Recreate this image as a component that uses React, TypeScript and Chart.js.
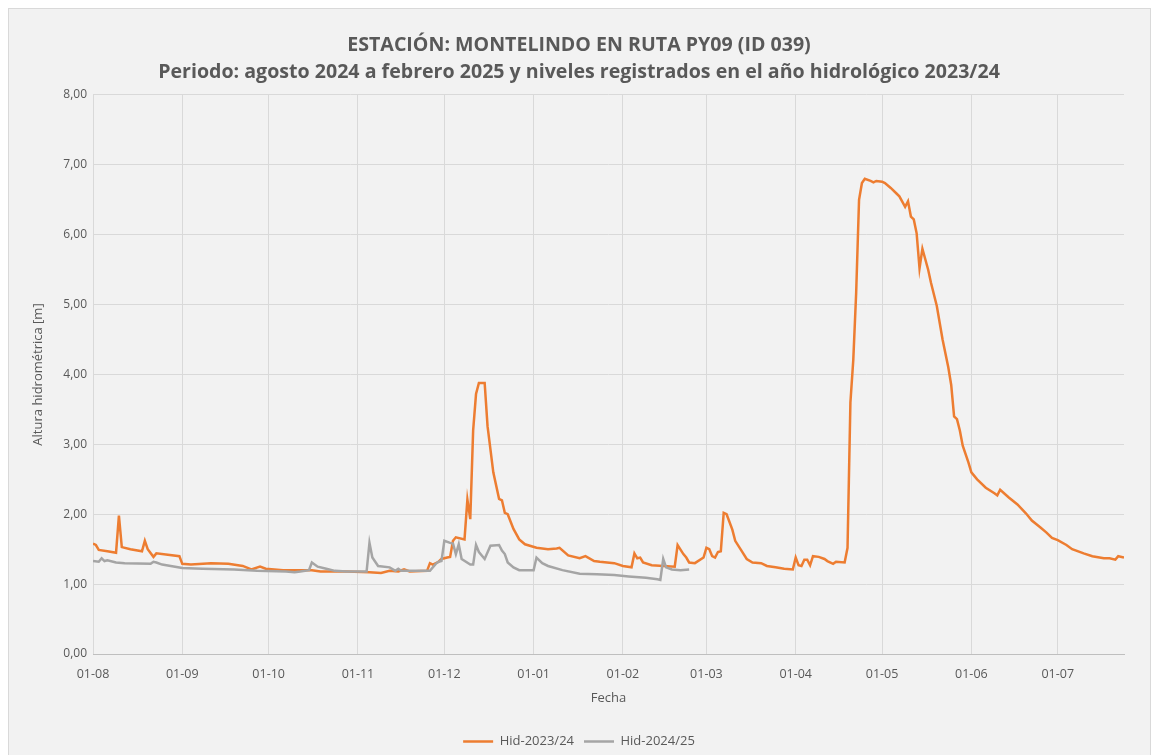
import React, { useEffect, useRef } from "react";
import { Chart, registerables } from "chart.js";

Chart.register(...registerables);

const FONT = "'Open Sans', 'Noto Sans', sans-serif";
const TEXT_COLOR = "#595959";

const titleLines = [
  "ESTACIÓN: MONTELINDO EN RUTA PY09 (ID 039)",
  "Periodo: agosto 2024 a febrero 2025 y niveles registrados en el año hidrológico 2023/24",
];
const yAxisTitle = "Altura hidrométrica [m]";
const xAxisTitle = "Fecha";

// month start positions (days from 1 August, hydrological year 2023/24)
const monthKeys = ["08", "09", "10", "11", "12", "01", "02", "03", "04", "05", "06", "07"];
const monthStartDays = [0, 31, 61, 92, 122, 153, 184, 213, 244, 274, 305, 335];
const monthTickLabels = ["01-08", "01-09", "01-10", "01-11", "01-12", "01-01", "01-02", "01-03", "01-04", "01-05", "01-06", "01-07"];
const axisEndDay = 358;
const yMin = 0;
const yMax = 8;
const yStep = 1;

const seriesNames = ["Hid-2023/24", "Hid-2024/25"];

const hid2324Dates = [
  "01-08", "02-08", "03-08", "06-08", "09-08", "10-08", "11-08", "14-08", "18-08", "19-08",
  "20-08", "22-08", "23-08", "27-08", "31-08", "01-09", "04-09", "11-09", "17-09", "22-09",
  "25-09", "28-09", "30-09", "06-10", "16-10", "19-10", "28-10", "05-11", "09-11", "12-11",
  "15-11", "17-11", "19-11", "25-11", "26-11", "27-11", "29-11", "30-11", "02-12", "03-12",
  "04-12", "05-12", "08-12", "09-12", "10-12", "11-12", "12-12", "13-12", "15-12", "16-12",
  "18-12", "20-12", "21-12", "22-12", "23-12", "25-12", "27-12", "29-12", "02-01", "06-01",
  "09-01", "10-01", "13-01", "17-01", "19-01", "22-01", "24-01", "29-01", "01-02", "04-02",
  "05-02", "06-02", "07-02", "08-02", "11-02", "19-02", "20-02", "22-02", "23-02", "24-02",
  "26-02", "29-02", "01-03", "02-03", "03-03", "04-03", "05-03", "06-03", "07-03", "08-03",
  "10-03", "11-03", "13-03", "15-03", "17-03", "20-03", "22-03", "25-03", "28-03", "31-03",
  "01-04", "02-04", "03-04", "04-04", "05-04", "06-04", "07-04", "09-04", "11-04", "12-04",
  "14-04", "15-04", "18-04", "19-04", "20-04", "21-04", "22-04", "23-04", "24-04", "25-04",
  "27-04", "28-04", "29-04", "01-05", "02-05", "04-05", "06-05", "07-05", "09-05", "10-05",
  "11-05", "12-05", "13-05", "14-05", "15-05", "17-05", "18-05", "20-05", "22-05", "24-05",
  "25-05", "26-05", "27-05", "28-05", "29-05", "31-05", "01-06", "03-06", "06-06", "09-06",
  "10-06", "11-06", "14-06", "17-06", "20-06", "22-06", "25-06", "27-06", "29-06", "01-07",
  "04-07", "06-07", "10-07", "13-07", "17-07", "19-07", "21-07", "22-07", "24-07",
];
const hid2324Values = [
  1.58, 1.56, 1.49, 1.47, 1.45, 1.98, 1.53, 1.50, 1.47, 1.62,
  1.50, 1.39, 1.44, 1.42, 1.40, 1.29, 1.28, 1.30, 1.29, 1.26,
  1.21, 1.25, 1.22, 1.20, 1.20, 1.18, 1.18, 1.17, 1.16, 1.19,
  1.18, 1.21, 1.18, 1.19, 1.30, 1.28, 1.32, 1.36, 1.38, 1.39,
  1.62, 1.67, 1.64, 2.21, 1.93, 3.20, 3.72, 3.88, 3.88, 3.26,
  2.60, 2.22, 2.20, 2.02, 2.00, 1.79, 1.64, 1.57, 1.52, 1.50,
  1.51, 1.52, 1.41, 1.37, 1.40, 1.33, 1.32, 1.30, 1.26, 1.24,
  1.44, 1.37, 1.38, 1.31, 1.27, 1.25, 1.56, 1.43, 1.38, 1.31,
  1.30, 1.38, 1.52, 1.50, 1.40, 1.38, 1.46, 1.47, 2.02, 2.00,
  1.78, 1.62, 1.49, 1.36, 1.31, 1.30, 1.26, 1.24, 1.22, 1.21,
  1.38, 1.27, 1.26, 1.35, 1.35, 1.27, 1.40, 1.39, 1.36, 1.33,
  1.29, 1.32, 1.31, 1.52, 3.60, 4.21, 5.17, 6.50, 6.74, 6.80,
  6.77, 6.75, 6.77, 6.76, 6.74, 6.67, 6.59, 6.55, 6.40, 6.48,
  6.26, 6.22, 6.02, 5.52, 5.80, 5.50, 5.31, 4.98, 4.50, 4.10,
  3.85, 3.40, 3.36, 3.20, 2.98, 2.74, 2.60, 2.50, 2.38, 2.30,
  2.27, 2.35, 2.24, 2.14, 2.01, 1.91, 1.81, 1.74, 1.66, 1.63,
  1.56, 1.50, 1.44, 1.40, 1.37, 1.37, 1.35, 1.40, 1.38,
];

const hid2425Dates = [
  "01-08", "03-08", "04-08", "05-08", "06-08", "09-08", "12-08", "21-08", "22-08", "23-08",
  "25-08", "28-08", "01-09", "08-09", "19-09", "27-09", "07-10", "10-10", "12-10", "15-10",
  "16-10", "18-10", "21-10", "24-10", "28-10", "04-11", "05-11", "06-11", "08-11", "12-11",
  "14-11", "15-11", "16-11", "22-11", "26-11", "28-11", "29-11", "30-11", "01-12", "03-12",
  "04-12", "05-12", "06-12", "07-12", "10-12", "11-12", "12-12", "13-12", "15-12", "17-12",
  "20-12", "21-12", "22-12", "23-12", "25-12", "27-12", "01-01", "02-01", "04-01", "06-01",
  "11-01", "17-01", "23-01", "29-01", "03-02", "09-02", "13-02", "14-02", "15-02", "16-02",
  "18-02", "21-02", "24-02",
];
const hid2425Values = [
  1.33, 1.32, 1.37, 1.33, 1.34, 1.31, 1.30, 1.29, 1.32, 1.31,
  1.28, 1.26, 1.23, 1.22, 1.21, 1.19, 1.18, 1.17, 1.18, 1.20,
  1.31, 1.25, 1.22, 1.19, 1.18, 1.18, 1.59, 1.38, 1.26, 1.24,
  1.19, 1.22, 1.19, 1.19, 1.19, 1.29, 1.32, 1.33, 1.62, 1.59,
  1.58, 1.43, 1.57, 1.36, 1.28, 1.28, 1.56, 1.46, 1.36, 1.55,
  1.56, 1.48, 1.43, 1.31, 1.24, 1.20, 1.20, 1.38, 1.30, 1.26,
  1.20, 1.15, 1.14, 1.13, 1.11, 1.09, 1.07, 1.06, 1.36, 1.24,
  1.21, 1.20, 1.21,
];

function dayIndex(ddmm: string): number {
  const [dd, mm] = ddmm.split("-");
  const m = monthKeys.indexOf(mm);
  return monthStartDays[m] + parseInt(dd, 10) - 1;
}

function toPoints(dates: string[], values: number[]) {
  return dates.map((d, i) => ({ x: dayIndex(d), y: values[i] }));
}

export default function App() {
  const canvasRef = useRef<HTMLCanvasElement | null>(null);

  useEffect(() => {
    if (!canvasRef.current) return;
    const tickFont = { family: FONT, size: 12 };
    const labelFont = { family: FONT, size: 13 };
    const chart = new Chart(canvasRef.current, {
      type: "line",
      data: {
        datasets: [
          {
            label: seriesNames[0],
            data: toPoints(hid2324Dates, hid2324Values),
            borderColor: "#ED7D31",
            backgroundColor: "#ED7D31",
            borderWidth: 2.5,
            pointRadius: 0,
            tension: 0,
            order: 1,
          },
          {
            label: seriesNames[1],
            data: toPoints(hid2425Dates, hid2425Values),
            borderColor: "#A5A5A5",
            backgroundColor: "#A5A5A5",
            borderWidth: 2.5,
            pointRadius: 0,
            tension: 0,
            order: 0,
          },
        ],
      },
      options: {
        animation: false,
        responsive: false,
        maintainAspectRatio: false,
        parsing: false,
        normalized: true,
        layout: { padding: { left: 34, right: 31, top: 0, bottom: 2 } },
        plugins: {
          title: {
            display: true,
            text: titleLines,
            color: TEXT_COLOR,
            font: { family: FONT, size: 19.6, weight: "bold", lineHeight: 1.38 },
            padding: { top: 31.5, bottom: 9.4 },
          },
          legend: {
            position: "bottom",
            labels: {
              usePointStyle: true,
              pointStyle: "line",
              pointStyleWidth: 30,
              color: TEXT_COLOR,
              font: labelFont,
              padding: 10,
              sort: (a: any, b: any) => a.datasetIndex - b.datasetIndex,
            },
          },
          tooltip: { enabled: false },
        },
        scales: {
          x: {
            type: "linear",
            min: 0,
            max: axisEndDay,
            afterBuildTicks: (scale: any) => {
              scale.ticks = monthStartDays.map((v) => ({ value: v }));
            },
            afterFit: (scale: any) => {
              scale.height = 71;
            },
            ticks: {
              autoSkip: false,
              maxRotation: 0,
              color: TEXT_COLOR,
              font: { family: FONT, size: 12.5 },
              padding: 13,
              callback: (v: any) => {
                const i = monthStartDays.indexOf(Number(v));
                return i >= 0 ? monthTickLabels[i] : "";
              },
            },
            grid: { color: "#d9d9d9", lineWidth: 1, drawTicks: false },
            border: { color: "#bfbfbf", width: 1 },
            title: {
              display: true,
              text: xAxisTitle,
              color: TEXT_COLOR,
              font: labelFont,
              padding: { top: 0, bottom: 19 },
            },
          },
          y: {
            min: yMin,
            max: yMax,
            afterFit: (scale: any) => {
              scale.width = 59;
            },
            ticks: {
              stepSize: yStep,
              color: TEXT_COLOR,
              font: tickFont,
              padding: 6,
              callback: (v: any) => Number(v).toFixed(2).replace(".", ","),
            },
            grid: { color: "#d9d9d9", lineWidth: 1, drawTicks: false },
            border: { display: false },
            title: {
              display: true,
              text: yAxisTitle,
              color: TEXT_COLOR,
              font: labelFont,
              padding: { top: -4, bottom: 0 },
            },
          },
        },
      },
    } as any);
    return () => chart.destroy();
  }, []);

  return (
    <div style={{ position: "fixed", left: 0, top: 0, width: 1155, height: 755, overflow: "hidden", background: "#ffffff" }}>
      <div
        style={{
          position: "absolute",
          left: 8,
          top: 8,
          width: 1141,
          height: 760,
          background: "#f2f2f2",
          border: "1px solid #d9d9d9",
        }}
      />
      <canvas
        ref={canvasRef}
        width={1155}
        height={760}
        style={{ position: "absolute", left: 0, top: 0, width: 1155, height: 760, display: "block" }}
      />
    </div>
  );
}
